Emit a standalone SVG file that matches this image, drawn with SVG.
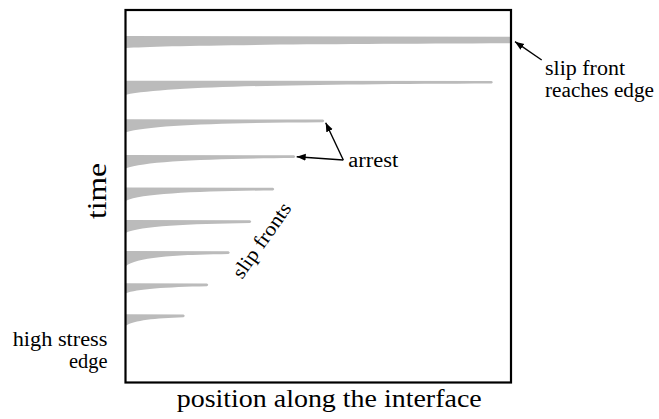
<svg xmlns="http://www.w3.org/2000/svg" width="659" height="419" viewBox="0 0 659 419">
<style>
text{font-family:'Liberation Serif','Times New Roman',serif;font-size:20px;fill:#000}
.w{fill:#bbbbbb;stroke:none}
.a{stroke:#000;stroke-width:1.4;fill:none}
</style>
<defs>
<marker id="ah" markerUnits="userSpaceOnUse" markerWidth="10" markerHeight="8" refX="9" refY="3.5" orient="auto">
<path d="M0,0 L9,3.5 L0,7 Z" fill="#000"/>
</marker>
</defs>
<g id="fronts">
<path class="w" d="M126,36 L511,36.7 L511,43.3 C300,44 160,45.5 126,48 Z"/>
<path class="w" d="M126,80.7 L491.5,80.9 Q494,82.1 491.5,83.4 C310,84.2 170,86 126,94.7 Z"/>
<path class="w" d="M126,119.3 L323,119.5 Q325.5,120.8 323,122.2 C225,123 150,125 126,132.3 Z"/>
<path class="w" d="M126,155 L294,155.2 Q296.5,156.5 294,157.9 C210,158.7 145,161 126,168.3 Z"/>
<path class="w" d="M126,187.5 L273,187.7 Q275.5,189 273,190.4 C200,191.2 142,193.5 126,200.7 Z"/>
<path class="w" d="M126,220 L250,220.2 Q252.5,221.5 250,222.9 C188,223.7 140,226 126,232.7 Z"/>
<path class="w" d="M126,251 L228.5,251.2 Q231,252.5 228.5,253.9 C176,254.7 136,257.5 126,266 Z"/>
<path class="w" d="M126,283.3 L207,283.5 Q209.5,284.8 207,286.2 C166,287 136,289 126,293.3 Z"/>
<path class="w" d="M126,314.3 L183.5,314.5 Q186,315.8 183.5,317.2 C155,318 134,320.5 126,325.5 Z"/>
</g>
<g id="frame">
<rect x="125.5" y="10" width="385.5" height="372.5" fill="none" stroke="#000" stroke-width="2.2"/>
</g>
<g id="connectors">
<line class="a" x1="541.7" y1="60" x2="515" y2="41.7" marker-end="url(#ah)"/>
<line class="a" x1="343.3" y1="160" x2="296.7" y2="156.7" marker-end="url(#ah)"/>
<line class="a" x1="343.3" y1="160" x2="325.7" y2="122.7" marker-end="url(#ah)"/>
</g>
<g id="label-edge-reach">
<text x="545" y="75" textLength="80" lengthAdjust="spacingAndGlyphs">slip front</text>
<text x="545" y="97" textLength="109" lengthAdjust="spacingAndGlyphs">reaches edge</text>
</g>
<g id="label-arrest">
<text x="348.3" y="167" textLength="50" lengthAdjust="spacingAndGlyphs">arrest</text>
</g>
<g id="label-high-stress">
<text x="12.7" y="346" textLength="94.8" lengthAdjust="spacingAndGlyphs">high stress</text>
<text x="69" y="368" textLength="38.5" lengthAdjust="spacingAndGlyphs">edge</text>
</g>
<g id="label-slip-fronts">
<text transform="translate(242,280) rotate(-55)" textLength="87.5" lengthAdjust="spacingAndGlyphs">slip fronts</text>
</g>
<g id="axis-labels">
<text x="176.7" y="407" style="font-size:25px" textLength="305" lengthAdjust="spacingAndGlyphs">position along the interface</text>
<text transform="translate(106,219) rotate(-90)" style="font-size:28px" textLength="56" lengthAdjust="spacingAndGlyphs">time</text>
</g>
</svg>
